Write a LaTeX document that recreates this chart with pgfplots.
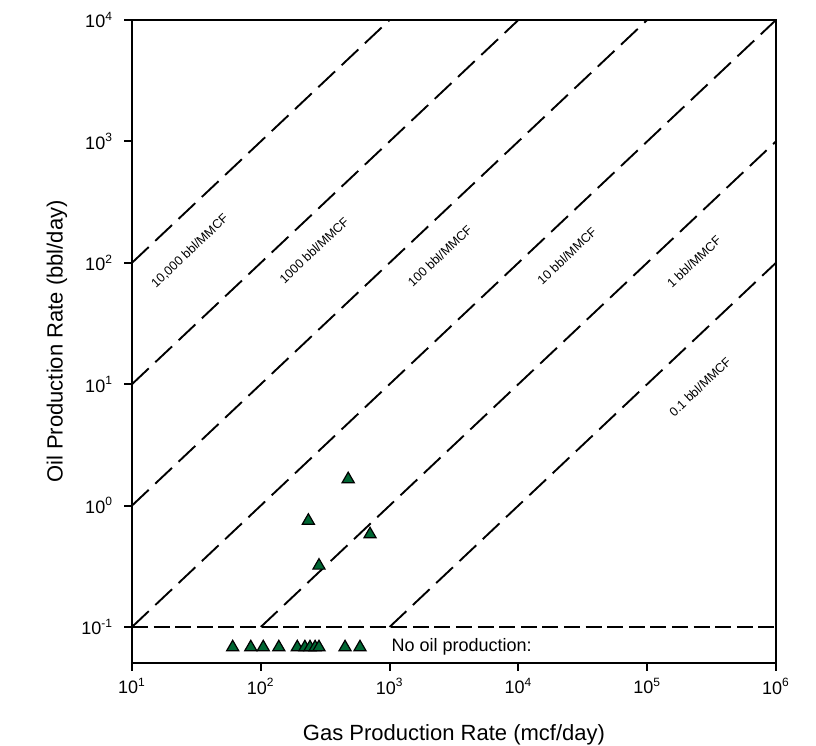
\documentclass[border=0pt]{standalone}
\usepackage{pgfplots}
\pgfplotsset{compat=1.18}
\usepackage{fontspec}
\setmainfont{Liberation Sans}
\definecolor{tri}{RGB}{0,102,51}
\begin{document}
\begin{tikzpicture}
\begin{axis}[
  scale only axis, width=322pt, height=321.5pt,
  xmode=log, ymode=log,
  xmin=10, xmax=1e6, ymin=0.0505, ymax=1e4,
  xtick={10,100,1000,10000,100000,1000000},
  xticklabels={10\textsuperscript{1},10\textsuperscript{2},10\textsuperscript{3},10\textsuperscript{4},10\textsuperscript{5},10\textsuperscript{6}},
  ytick={0.1,1,10,100,1000,10000},
  yticklabels={10\textsuperscript{-1},10\textsuperscript{0},10\textsuperscript{1},10\textsuperscript{2},10\textsuperscript{3},10\textsuperscript{4}},
  xminorticks=false, yminorticks=false,
  tick align=outside, major tick length=4pt,
  xtick pos=bottom, ytick pos=left,
  axis line style={line width=1pt},
  every tick/.style={black, line width=1pt},
  tick label style={font=\fontsize{9}{10}\selectfont},
  yticklabel style={xshift=-2pt},
  xlabel={Gas Production Rate (mcf/day)},
  ylabel={Oil Production Rate (bbl/day)},
  label style={font=\fontsize{11}{13}\selectfont},
  xlabel style={at={(axis description cs:0.5,-0.112)}, anchor=center},
  ylabel style={at={(axis description cs:-0.1165,0.5)}, anchor=center},
  clip=true,
]
% ratio lines
\addplot[black, line width=0.95pt, dash pattern=on 11.5pt off 4.5pt] coordinates {(10,100) (1000,10000)};
\addplot[black, line width=0.95pt, dash pattern=on 11.5pt off 4.5pt] coordinates {(10,10) (10000,10000)};
\addplot[black, line width=0.95pt, dash pattern=on 11.5pt off 4.5pt] coordinates {(10,1) (100000,10000)};
\addplot[black, line width=0.95pt, dash pattern=on 11.5pt off 4.5pt] coordinates {(10,0.1) (1000000,10000)};
\addplot[black, line width=0.95pt, dash pattern=on 11.5pt off 4.5pt] coordinates {(100,0.1) (1000000,1000)};
\addplot[black, line width=0.95pt, dash pattern=on 11.5pt off 4.5pt] coordinates {(1000,0.1) (1000000,100)};
\addplot[black, line width=0.95pt, dash pattern=on 8pt off 2.8pt] coordinates {(10,0.1) (1000000,0.1)};
% data
\addplot[only marks, mark=triangle*, mark size=3.5pt, mark options={fill=tri, draw=black, line width=0.6pt}] coordinates {
  (477,1.65) (234,0.75) (705,0.58) (283,0.32)
};
\addplot[only marks, mark=triangle*, mark size=3.5pt, mark options={fill=tri, draw=black, line width=0.6pt}] coordinates {
  (60.5,0.068) (83.6,0.068) (104.5,0.068) (138,0.068) (192,0.068) (220,0.068)
  (241,0.068) (264,0.068) (283,0.068) (451,0.068) (589,0.068)
};
\node[anchor=west, font=\fontsize{9}{10}\selectfont, inner sep=0pt] at (axis cs:1030,0.068) {No oil production:};
\node[rotate=43.3, font=\fontsize{6.3}{7}\selectfont] at (axis cs:28.2,125) {10,000 bbl/MMCF};
\node[rotate=43.3, font=\fontsize{6.3}{7}\selectfont] at (axis cs:259,127) {1000 bbl/MMCF};
\node[rotate=43.3, font=\fontsize{6.3}{7}\selectfont] at (axis cs:2460,114) {100 bbl/MMCF};
\node[rotate=43.3, font=\fontsize{6.3}{7}\selectfont] at (axis cs:23800,114) {10 bbl/MMCF};
\node[rotate=43.3, font=\fontsize{6.3}{7}\selectfont] at (axis cs:230700,102) {1 bbl/MMCF};
\node[rotate=43.3, font=\fontsize{6.3}{7}\selectfont] at (axis cs:257000,9.5) {0.1 bbl/MMCF};
\end{axis}
\pgfresetboundingbox
\path ([shift={(-66pt,-41.5pt)}]current axis.south west) rectangle ([shift={(20pt,10pt)}]current axis.north east);
\end{tikzpicture}
\end{document}
